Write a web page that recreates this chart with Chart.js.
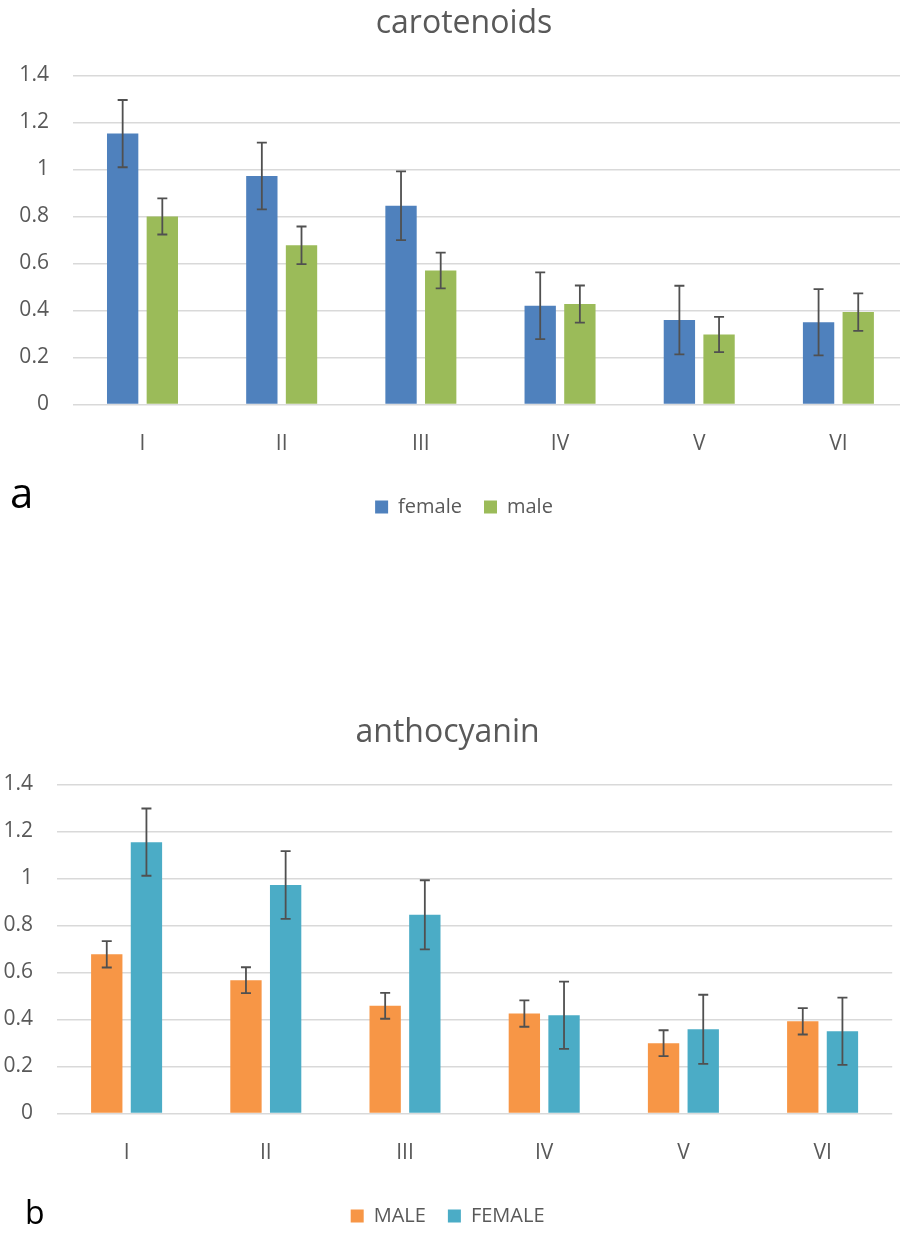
<!DOCTYPE html>
<html>
<head>
<meta charset="utf-8">
<script src="https://cdn.jsdelivr.net/npm/chart.js@4.4.1/dist/chart.umd.min.js"></script>
<style>
  html, body { margin: 0; padding: 0; background: #fff; overflow: hidden; width: 900px; height: 1234px; }
  .panel { position: absolute; left: 0; }
  #boxA { top: 0; }
  #boxB { top: 709.4px; }
  .tag { position: absolute; font-family: "Open Sans", sans-serif; line-height: 1; color: #000; }
</style>
</head>
<body>
<div class="panel" id="boxA"><canvas id="carotenoids" width="928" height="527"></canvas></div>
<div class="panel" id="boxB"><canvas id="anthocyanin" width="895" height="527"></canvas></div>
<div class="tag" style="left:10px; top:470.5px; font-size:42px;">a</div>
<div class="tag" style="left:25px; top:1195.6px; font-size:32px;">b</div>
<script>
// Categories and axis labels
const categories = ['I', 'II', 'III', 'IV', 'V', 'VI'];
const yTickLabels = ['0', '0.2', '0.4', '0.6', '0.8', '1', '1.2', '1.4'];

// Carotenoids: means and error half-widths
const carFemale    = [1.152, 0.972, 0.845, 0.420, 0.359, 0.350];
const carFemaleErr = [0.143, 0.142, 0.146, 0.142, 0.146, 0.141];
const carMale      = [0.800, 0.677, 0.570, 0.427, 0.298, 0.393];
const carMaleErr   = [0.077, 0.080, 0.076, 0.079, 0.075, 0.080];

// Anthocyanin: means and error half-widths
const antMale      = [0.677, 0.567, 0.458, 0.425, 0.299, 0.392];
const antMaleErr   = [0.056, 0.055, 0.055, 0.056, 0.055, 0.056];
const antFemale    = [1.154, 0.972, 0.845, 0.418, 0.358, 0.350];
const antFemaleErr = [0.143, 0.144, 0.147, 0.143, 0.147, 0.143];

const FONT = 'Open Sans';
const TEXT = '#595959';

// Draws symmetric error bars on top of each bar, using the dataset's "errors" array
const errorBars = {
  id: 'errorBars',
  afterDatasetsDraw(chart, args, opts) {
    const ctx = chart.ctx;
    const y = chart.scales.y;
    ctx.save();
    ctx.strokeStyle = opts.color;
    ctx.lineWidth = opts.width;
    chart.data.datasets.forEach((ds, di) => {
      const meta = chart.getDatasetMeta(di);
      meta.data.forEach((bar, i) => {
        const v = ds.data[i], e = ds.errors[i];
        const yTop = y.getPixelForValue(v + e);
        const yBot = y.getPixelForValue(v - e);
        const x = bar.x;
        ctx.beginPath();
        ctx.moveTo(x, yTop); ctx.lineTo(x, yBot);
        ctx.moveTo(x - opts.cap, yTop); ctx.lineTo(x + opts.cap, yTop);
        ctx.moveTo(x - opts.cap, yBot); ctx.lineTo(x + opts.cap, yBot);
        ctx.stroke();
      });
    });
    ctx.restore();
  }
};

function makeChart(id, title, sets, padLeft, yAxisWidth, padRight) {
  return new Chart(document.getElementById(id), {
    type: 'bar',
    data: {
      labels: categories,
      datasets: sets.map(s => ({
        label: s.label,
        data: s.values,
        errors: s.errors,
        backgroundColor: s.color,
        borderWidth: 0,
        categoryPercentage: 0.57,
        barPercentage: 0.79
      }))
    },
    options: {
      responsive: false,
      animation: false,
      devicePixelRatio: 1,
      layout: { padding: { top: 0, left: padLeft, right: padRight, bottom: 0 } },
      plugins: {
        title: {
          display: true,
          text: title,
          color: TEXT,
          font: { family: FONT, size: 32, weight: 'normal', lineHeight: 1.2 },
          padding: { top: 4.2, bottom: 32.7 }
        },
        legend: {
          position: 'bottom',
          labels: {
            boxWidth: 13, boxHeight: 13, padding: 22,
            color: TEXT,
            font: { family: FONT, size: 20 }
          }
        },
        tooltip: { enabled: false },
        errorBars: { color: '#505050', width: 1.8, cap: 5 }
      },
      scales: {
        x: {
          grid: { display: false, drawTicks: false },
          border: { display: false },
          ticks: { color: TEXT, font: { family: FONT, size: 21 }, padding: 27 },
          afterFit: s => { s.height = 70.5; }
        },
        y: {
          min: 0, max: 1.4,
          grid: { color: '#d9d9d9', lineWidth: 1.5, drawTicks: false },
          border: { display: false },
          ticks: {
            stepSize: 0.2,
            color: TEXT,
            font: { family: FONT, size: 21 },
            padding: 24,
            callback: (v, i) => yTickLabels[i]
          },
          afterFit: s => { s.width = yAxisWidth; }
        }
      }
    },
    plugins: [errorBars]
  });
}

makeChart('carotenoids', 'carotenoids', [
  { label: 'female', values: carFemale, errors: carFemaleErr, color: '#4f81bd' },
  { label: 'male',   values: carMale,   errors: carMaleErr,   color: '#9bbb59' }
], 20, 52.9, 20);

makeChart('anthocyanin', 'anthocyanin', [
  { label: 'MALE',   values: antMale,   errors: antMaleErr,   color: '#f79646' },
  { label: 'FEMALE', values: antFemale, errors: antFemaleErr, color: '#4bacc6' }
], 3, 54, 2.8);
</script>
</body>
</html>
